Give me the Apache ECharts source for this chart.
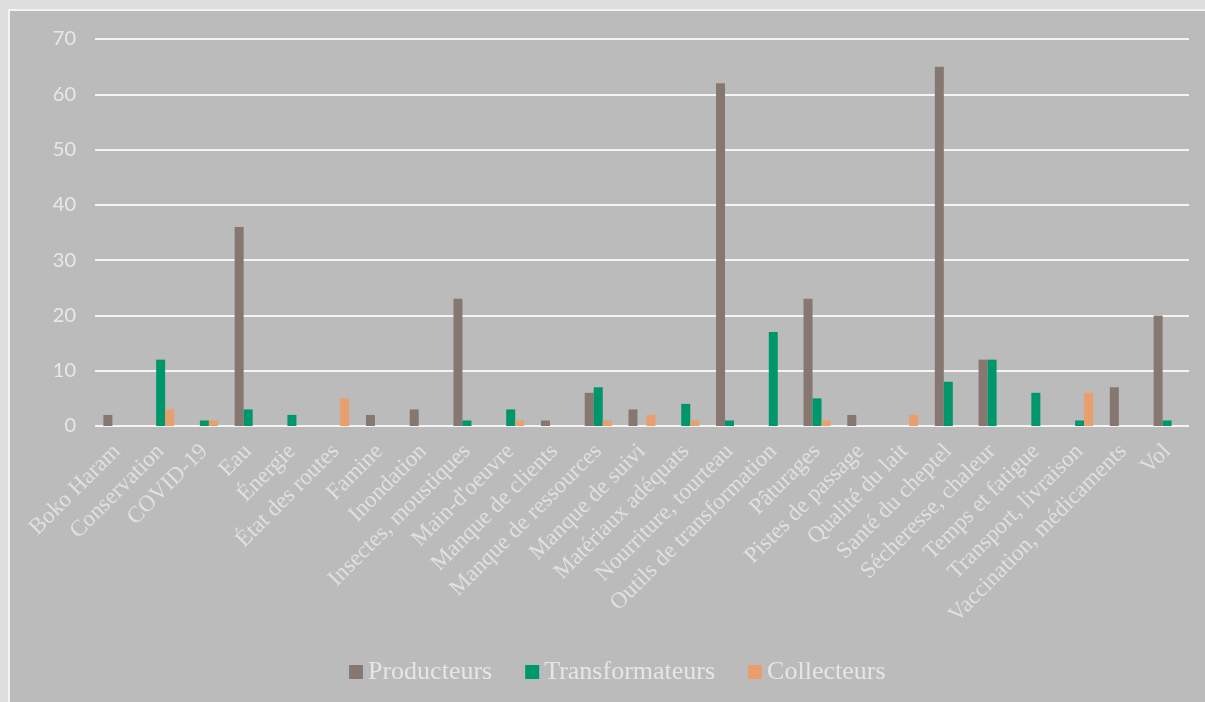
<!DOCTYPE html>
<html>
<head>
<meta charset="utf-8">
<script src="https://cdn.jsdelivr.net/npm/echarts@6/dist/echarts.min.js"></script>
<style>
html,body{margin:0;padding:0;background:#dddddd;}
#chart{width:1205px;height:702px;}
</style>
</head>
<body>
<div id="chart"></div>
<script>
const categories = ["Boko Haram","Conservation","COVID-19","Eau","Énergie","État des routes","Famine","Inondation","Insectes, moustiques","Main-d'oeuvre","Manque de clients","Manque de ressources","Manque de suivi","Matériaux adéquats","Nourriture, tourteau","Outils de transformation","Pâturages","Pistes de passage","Qualité du lait","Santé du cheptel","Sécheresse, chaleur","Temps et fatigue","Transport, livraison","Vaccination, médicaments","Vol"];
const producteurs =     [2,0,0,36,0,0,2,3,23,0,1,6,3,0,62,0,23,2,0,65,12,0,0,7,20];
const transformateurs = [0,12,1,3,2,0,0,0,1,3,0,7,0,4,1,17,5,0,0,8,12,6,1,0,1];
const collecteurs =     [0,3,1,0,0,5,0,0,0,1,0,1,2,1,0,0,1,0,2,0,0,0,6,0,0];
const seriesNames = ["Producteurs","Transformateurs","Collecteurs"];
const yTicks = {min:0, max:70, interval:10};

const colors = ["#867870","#00966b","#e89f6d"];
const chart = echarts.init(document.getElementById('chart'));
const data = [producteurs, transformateurs, collecteurs];
chart.setOption({
  backgroundColor:'#dddddd',
  animation:false,
  graphic:[{type:'rect', z:-10, silent:true, shape:{x:9,y:10,width:1300,height:800}, style:{fill:'#bbbbbb', stroke:'#f4f4f4', lineWidth:2}}],
  grid:{left:95, right:16, top:39, bottom:276, containLabel:false},
  legend:{
    left:344, top:654, itemWidth:14, itemHeight:14, itemGap:33,
    icon:'rect',
    textStyle:{fontFamily:'Liberation Serif', fontSize:26, color:'#e6e6e6'},
    data:seriesNames
  },
  xAxis:{
    type:'category', data:categories,
    axisLine:{show:false}, axisTick:{show:false},
    axisLabel:{interval:0, rotate:45, margin:22, fontFamily:'Liberation Serif', fontSize:23, color:'#e0e0e0'}
  },
  yAxis:{
    type:'value', min:yTicks.min, max:yTicks.max, interval:yTicks.interval,
    axisLine:{show:false}, axisTick:{show:false},
    axisLabel:{margin:19, fontFamily:'Lato', fontSize:20, color:'#e8e8e8'},
    splitLine:{lineStyle:{color:'#f4f4f4', width:2}}
  },
  series: seriesNames.map((n,i)=>({
    name:n, type:'bar', data:data[i], barWidth:9, barGap:'0%',
    itemStyle:{color:colors[i]}
  }))
});
</script>
</body>
</html>
